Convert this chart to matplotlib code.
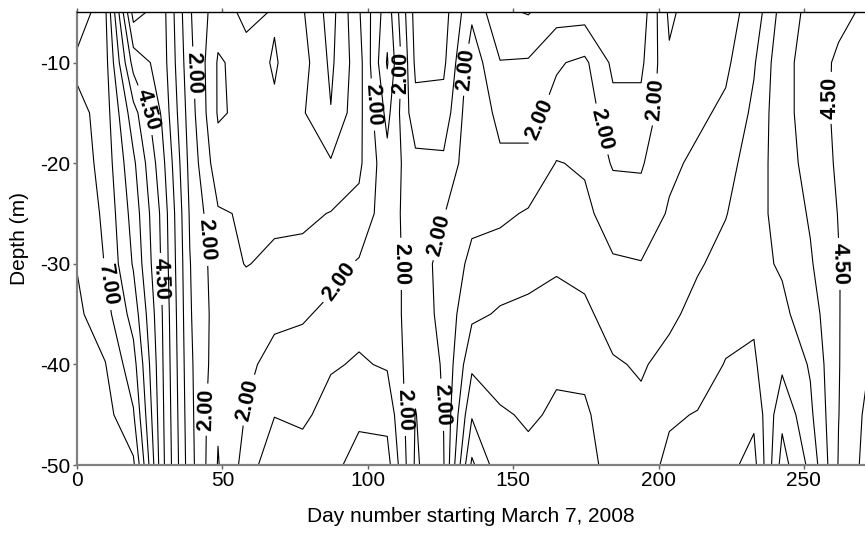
import numpy as np
import matplotlib
matplotlib.use('Agg')
import matplotlib.pyplot as plt

plt.rcParams['font.family'] = ['Liberation Sans', 'DejaVu Sans']
plt.rcParams['axes.unicode_minus'] = False

# Sampling stations (day number starting March 7, 2008)
days = [0.0, 9.7, 19.4, 29.1, 38.8, 48.5, 58.2, 67.9, 77.6, 87.3,
        97.0, 106.7, 116.4, 126.1, 135.8, 145.5, 155.2, 164.9, 174.6, 184.3,
        194.0, 203.7, 213.4, 223.1, 232.8, 242.5, 252.2, 261.9, 271.6]
depths = [-5, -10, -15, -20, -25, -30, -35, -40, -45, -50]

# Values at each depth (one list per depth, one value per station)
val_05m = [7.40, 6.60, 3.30, 3.75, 2.05, 1.20, 0.90, 1.03, 1.05, 0.30, 1.45, 2.80, 0.80, 0.80, 1.90,
           1.10, 0.97, 1.30, 1.30, 1.10, 1.20, 2.60, 2.20, 2.30, 2.70, 3.70, 4.15, 4.35, 4.60]
val_10m = [6.85, 6.70, 4.30, 3.80, 2.15, 0.95, 1.15, 0.97, 1.20, 0.40, 1.30, 3.05, 0.90, 0.90, 2.30,
           1.52, 1.55, 1.95, 2.10, 1.40, 1.40, 2.42, 2.30, 2.40, 2.95, 3.85, 4.20, 4.60, 4.70]
val_15m = [7.20, 6.75, 5.20, 3.95, 2.25, 0.95, 1.10, 1.04, 1.05, 0.52, 1.35, 2.65, 1.15, 1.20, 2.40,
           1.85, 1.85, 2.15, 2.30, 1.65, 1.65, 2.35, 2.40, 2.60, 3.10, 3.85, 4.20, 4.62, 4.75]
val_20m = [7.30, 6.80, 5.60, 4.20, 2.35, 1.20, 1.30, 1.25, 1.20, 1.05, 1.40, 2.35, 1.65, 1.60, 2.35,
           2.10, 2.10, 2.52, 2.45, 1.95, 1.95, 2.40, 2.60, 2.85, 3.20, 3.80, 4.15, 4.58, 4.80]
val_25m = [7.40, 6.90, 5.80, 4.40, 2.45, 1.55, 1.45, 1.40, 1.40, 1.52, 1.65, 2.30, 1.65, 1.98, 2.40,
           2.40, 2.55, 2.70, 2.60, 2.30, 2.20, 2.55, 2.80, 2.98, 3.30, 3.70, 4.05, 4.52, 4.82]
val_30m = [7.48, 6.98, 5.95, 4.45, 2.52, 1.70, 1.48, 1.60, 1.65, 1.85, 2.05, 2.30, 1.70, 2.20, 2.60,
           2.75, 2.85, 2.95, 2.85, 2.55, 2.52, 2.75, 2.95, 3.15, 3.38, 3.55, 3.95, 4.48, 4.85]
val_35m = [7.60, 7.20, 6.30, 4.55, 2.55, 1.75, 1.80, 1.90, 1.95, 2.10, 2.35, 2.30, 1.70, 2.15, 2.90,
           3.05, 3.10, 3.15, 3.10, 2.80, 2.75, 2.90, 3.15, 3.35, 3.45, 3.40, 3.75, 4.48, 4.88]
val_40m = [7.70, 7.52, 6.70, 4.60, 2.60, 1.70, 1.90, 2.15, 2.20, 2.45, 2.55, 2.45, 1.65, 2.05, 3.40,
           3.30, 3.30, 3.45, 3.35, 3.05, 2.95, 3.15, 3.30, 3.52, 3.55, 3.10, 3.55, 4.48, 4.95]
val_45m = [7.80, 7.70, 7.05, 4.65, 2.65, 1.55, 2.03, 2.48, 2.40, 2.70, 2.90, 2.85, 1.48, 2.02, 3.95,
           3.55, 3.45, 3.55, 3.60, 3.15, 3.10, 3.45, 3.52, 3.75, 3.90, 2.62, 3.40, 4.49, 5.10]
val_50m = [7.85, 7.85, 7.60, 4.70, 2.70, 1.47, 2.20, 2.90, 2.75, 2.85, 3.20, 3.20, 1.42, 1.97, 4.60,
           3.66, 3.60, 3.60, 3.80, 3.20, 3.30, 3.60, 3.70, 3.85, 4.17, 2.30, 3.13, 4.53, 5.17]

labeled_levels = [2.0, 4.5, 7.0]
plain_levels = [0.5, 1.0, 1.5, 2.5, 3.0, 3.5, 4.0, 5.0, 5.5, 6.0, 6.5, 7.5]

# Approximate label locations (day, depth)
label_spots = [(10.7, -32), (24, -14.7), (28.5, -31.5), (258, -13.5), (262.4, -30),
               (40, -11), (45, -27.6), (45.7, -44.5), (62, -43.8), (91.5, -32),
               (100, -14.2), (111, -11), (113, -30), (112.8, -44.5), (123, -27),
               (126, -44), (133.7, -10.7), (159, -15.6), (179, -16.7), (200.5, -13.7)]

Z = np.array([val_05m, val_10m, val_15m, val_20m, val_25m,
              val_30m, val_35m, val_40m, val_45m, val_50m])

fig = plt.figure(figsize=(8.65, 5.34), dpi=100)
ax = fig.add_axes([0.089, 0.129, 0.911, 0.848])

ax.contour(days, depths, Z, levels=plain_levels, colors='black', linewidths=0.8)
cs_lab = ax.contour(days, depths, Z, levels=labeled_levels, colors='black', linewidths=0.8)
texts = cs_lab.clabel(fmt='%.2f', fontsize=15.5, manual=label_spots,
                      inline=True, inline_spacing=5)
for t in texts:
    t.set_fontweight('bold')

ax.set_xlim(0, 271)
ax.set_ylim(-50, -5)
ax.set_xticks([0, 50, 100, 150, 200, 250])
ax.set_yticks([-10, -20, -30, -40, -50])

for side in ['left', 'bottom']:
    ax.spines[side].set_color('#808080')
    ax.spines[side].set_linewidth(1.6)
ax.spines['top'].set_color('black')
ax.spines['top'].set_linewidth(1)
ax.spines['right'].set_visible(False)

ax.tick_params(axis='both', which='major', direction='out', length=3, width=1,
               color='#606060', labelsize=15, pad=1.5)
ax.tick_params(axis='x', top=True, labeltop=False)
ax.tick_params(axis='y', right=False)

ax.set_xlabel('Day number starting March 7, 2008', fontsize=15, labelpad=12)
ax.set_ylabel('Depth (m)', fontsize=15, labelpad=8)

fig.savefig('out.png', dpi=100)
